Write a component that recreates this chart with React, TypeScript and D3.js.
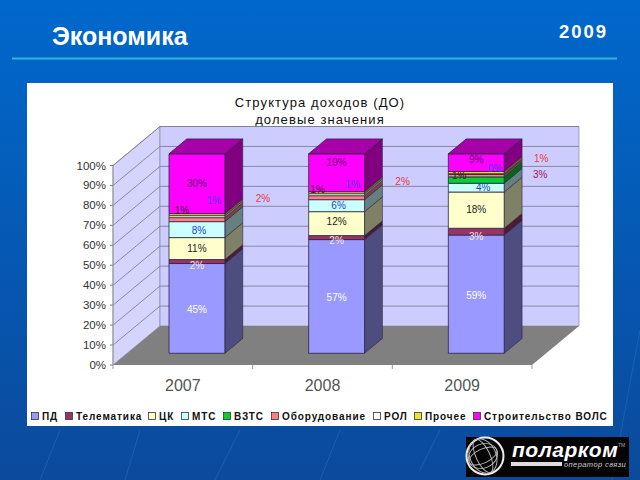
import React, { useEffect, useRef } from "react";
import * as d3 from "d3";

const years = ["2007", "2008", "2009"];
const seriesNames = ["ПД", "Телематика", "ЦК", "МТС", "ВЗТС", "Оборудование", "РОЛ", "Прочее", "Строительство ВОЛС"];

const pd = [45, 57, 59.4];
const telematika = [2, 2, 3.4];
const ck = [11, 12, 18.2];
const mts = [8, 6, 4.4];
const vzts = [0, 0, 3.2];
const equipment = [2, 2, 1.2];
const rol = [1, 1, 0.4];
const other = [1, 1, 1.1];
const vols = [30, 19, 8.9];
const seriesValues = [pd, telematika, ck, mts, vzts, equipment, rol, other, vols];

const yTicks = [0, 0.1, 0.2, 0.3, 0.4, 0.5, 0.6, 0.7, 0.8, 0.9, 1];

const colors = ["#9999ff", "#993366", "#ffffcc", "#ccffff", "#00d030", "#ff8080", "#ffffff", "#e8e820", "#ff00ff"];
const labelColors = ["#ffffff", "#f4e8f0", "#222222", "#1a3fcc", "#a02050", "#e83838", "#5533ff", "#401030", "#600070"];
const legendX = [31, 65, 148, 181, 223, 271, 373, 414, 473];

// hand placed data labels, [dx, dy] from the segment centre, per series then year
const labelNudge = [
  [[0, 1], [0, 1], [0, 1]],
  [[0, 4], [0, 3], [0, 5]],
  [[0, 0], [0, -2], [0, -1]],
  [[2, 1], [2, 0], [7, 0]],
  [[0, 0], [0, 0], [64, -6]],
  [[66, -21], [66, -16], [65, -17]],
  [[17, -16], [16, -10], [19, -6]],
  [[-15, -4], [-19, -3], [-17, 3]],
  [[0, 0], [0, -10], [0, -3]],
];

const FONT = "'Liberation Sans', Arial, sans-serif";

export default function App() {
  const ref = useRef<SVGSVGElement>(null);

  useEffect(() => {
    const svg = d3.select(ref.current);
    svg.selectAll("*").remove();

    // slide background
    const defs = svg.append("defs");
    const grad = defs.append("linearGradient").attr("id", "bg").attr("x1", 0).attr("x2", 0).attr("y1", 0).attr("y2", 1);
    grad.append("stop").attr("offset", "0%").attr("stop-color", "#0068cc");
    grad.append("stop").attr("offset", "100%").attr("stop-color", "#0b4a9c");
    svg.append("rect").attr("width", 640).attr("height", 480).attr("fill", "url(#bg)");

    [[60, 430, 40, 480], [140, 430, 125, 480], [240, 430, 215, 480], [340, 430, 320, 480], [440, 430, 420, 470], [640, 330, 612, 480]].forEach(l => {
      svg.append("line").attr("x1", l[0]).attr("y1", l[1]).attr("x2", l[2]).attr("y2", l[3])
        .attr("stroke", "#3a78c0").attr("stroke-opacity", 0.4);
    });

    svg.append("text").attr("x", 52).attr("y", 45).attr("fill", "#fff").attr("font-family", FONT)
      .attr("font-weight", "bold").attr("font-size", 25).text("Экономика");
    svg.append("text").attr("x", 559).attr("y", 38).attr("fill", "#fff").attr("font-family", FONT)
      .attr("font-weight", "bold").attr("font-size", 18.5).attr("letter-spacing", 2).text("2009");
    svg.append("line").attr("x1", 12).attr("x2", 617).attr("y1", 58.5).attr("y2", 58.5)
      .attr("stroke", "#2fb4dc").attr("stroke-width", 2);

    // chart panel
    svg.append("rect").attr("x", 27).attr("y", 83).attr("width", 586).attr("height", 343).attr("fill", "#fff");

    const title = svg.append("text").attr("text-anchor", "middle").attr("font-family", FONT)
      .attr("font-size", 13).attr("letter-spacing", 1.1).attr("fill", "#111");
    title.append("tspan").attr("x", 320).attr("y", 107).text("Структура доходов (ДО)");
    title.append("tspan").attr("x", 320).attr("y", 124).text("долевые значения");

    const xScale = d3.scaleBand().domain(years).range([113, 532]).paddingInner(0.6).paddingOuter(0.3);
    const yScale = d3.scaleLinear().domain([0, 1]).range([365, 165.5]);
    const depth = { x: 47, y: -39 };

    // project a point: x on the floor, v on the value axis, z into the depth
    const pt = (x: number, v: number, z: number) => [x + depth.x * z, yScale(v) + depth.y * z];
    const poly = (pts: number[][]) => pts.map(p => p.join(",")).join(" ");

    const x0 = xScale.range()[0], x1 = xScale.range()[1];

    // walls and floor
    svg.append("polygon").attr("points", poly([pt(x0, 0, 0), pt(x0, 1, 0), pt(x0, 1, 1), pt(x0, 0, 1)]))
      .attr("fill", "#d4d4ff").attr("stroke", "#8a8a9a").attr("stroke-width", 0.7);
    svg.append("polygon").attr("points", poly([pt(x0, 0, 1), pt(x0, 1, 1), pt(x1, 1, 1), pt(x1, 0, 1)]))
      .attr("fill", "#ccccff").attr("stroke", "#8a8a9a").attr("stroke-width", 0.7);
    svg.append("polygon").attr("points", poly([pt(x0, 0, 0), pt(x1, 0, 0), pt(x1, 0, 1), pt(x0, 0, 1)]))
      .attr("fill", "#808080");

    yTicks.forEach(t => {
      const a = pt(x0, t, 0), b = pt(x0, t, 1), c = pt(x1, t, 1);
      if (t > 0) {
        svg.append("polyline").attr("points", poly([a, b, c])).attr("fill", "none")
          .attr("stroke", "#77778a").attr("stroke-width", 0.8);
      }
      svg.append("line").attr("x1", x0 - 3).attr("x2", x0).attr("y1", a[1]).attr("y2", a[1]).attr("stroke", "#777");
      svg.append("text").attr("x", x0 - 7).attr("y", a[1] + 4).attr("text-anchor", "end")
        .attr("font-family", FONT).attr("font-size", 11.5).attr("fill", "#333")
        .text(d3.format(".0%")(t));
    });
    svg.append("line").attr("x1", x0).attr("x2", x0).attr("y1", yScale(0)).attr("y2", yScale(1)).attr("stroke", "#999");

    const bandStep = xScale.step();
    [0, 1, 2, 3].forEach(i => {
      const x = x0 + (bandStep * i);
      svg.append("line").attr("x1", x).attr("x2", x).attr("y1", 365).attr("y2", 369).attr("stroke", "#999");
    });

    svg.selectAll(".year").data(years).join("text").attr("class", "year")
      .attr("x", d => xScale(d)! + xScale.bandwidth() / 2)
      .attr("y", 391).attr("text-anchor", "middle").attr("font-family", FONT)
      .attr("font-size", 16).attr("fill", "#555").text(d => d);

    // stacked bars, normalised to 100%
    const table = years.map((y, i) => {
      const row: any = { year: y };
      seriesNames.forEach((s, j) => { row[s] = seriesValues[j][i]; });
      return row;
    });
    const stacked = d3.stack().keys(seriesNames).offset(d3.stackOffsetExpand)(table);

    const zFront = 0.3, zBack = 0.68;
    const shade = (c: string, k: number) => {
      const r = d3.rgb(c);
      return d3.rgb(r.r * k, r.g * k, r.b * k).formatHex();
    };
    const edge = "#2a2440";

    years.forEach((year, yi) => {
      const xl = xScale(year)!, xr = xl + xScale.bandwidth();
      const g = svg.append("g");
      stacked.forEach((layer, si) => {
        const lo = layer[yi][0], hi = layer[yi][1];
        if (hi - lo <= 0) return;
        g.append("polygon").attr("points", poly([pt(xr, lo, zFront), pt(xr, hi, zFront), pt(xr, hi, zBack), pt(xr, lo, zBack)]))
          .attr("fill", shade(colors[si], 0.5)).attr("stroke", edge).attr("stroke-width", 0.6);
        g.append("polygon").attr("points", poly([pt(xl, lo, zFront), pt(xr, lo, zFront), pt(xr, hi, zFront), pt(xl, hi, zFront)]))
          .attr("fill", colors[si]).attr("stroke", edge).attr("stroke-width", 0.8);
      });
      const top = stacked[stacked.length - 1][yi][1];
      g.append("polygon").attr("points", poly([pt(xl, top, zFront), pt(xr, top, zFront), pt(xr, top, zBack), pt(xl, top, zBack)]))
        .attr("fill", shade(colors[colors.length - 1], 0.66)).attr("stroke", edge).attr("stroke-width", 0.8);
    });

    // data labels
    stacked.forEach((layer, si) => {
      years.forEach((year, yi) => {
        const value = seriesValues[si][yi];
        if (value === 0) return;
        const mid = (layer[yi][0] + layer[yi][1]) / 2;
        const c = pt(xScale(year)! + xScale.bandwidth() / 2, mid, zFront);
        const n = labelNudge[si][yi];
        svg.append("text").attr("x", c[0] + n[0]).attr("y", c[1] + n[1] + 3.5)
          .attr("text-anchor", "middle").attr("font-family", FONT).attr("font-size", 10)
          .attr("fill", labelColors[si]).text(Math.round(value) + "%");
      });
    });

    // legend
    seriesNames.forEach((name, i) => {
      svg.append("rect").attr("x", legendX[i] + 0.5).attr("y", 412.5).attr("width", 7).attr("height", 7)
        .attr("fill", colors[i]).attr("stroke", "#333").attr("stroke-width", 0.8);
      svg.append("text").attr("x", legendX[i] + 11).attr("y", 420).attr("font-family", FONT)
        .attr("font-weight", "bold").attr("font-size", 10).attr("letter-spacing", 0.9)
        .attr("fill", "#111").text(name);
    });

    // logo
    const logo = svg.append("g");
    logo.append("rect").attr("x", 466).attr("y", 437).attr("width", 163).attr("height", 40).attr("fill", "#050505");
    logo.append("circle").attr("cx", 485).attr("cy", 456).attr("r", 18.5).attr("fill", "none").attr("stroke", "#eee").attr("stroke-width", 2);
    [[15, 7, -25], [15, 12, -25], [7, 18, -25], [13, 18, -25]].forEach(e => {
      logo.append("ellipse").attr("cx", 483).attr("cy", 456).attr("rx", e[0]).attr("ry", e[1])
        .attr("transform", `rotate(${e[2]} 483 456)`).attr("fill", "none").attr("stroke", "#bbb").attr("stroke-width", 0.9);
    });
    logo.append("text").attr("x", 512).attr("y", 457).attr("fill", "#fff").attr("font-family", FONT)
      .attr("font-weight", "bold").attr("font-style", "italic").attr("font-size", 21).attr("letter-spacing", 0.5).text("поларком");
    logo.append("rect").attr("x", 511).attr("y", 462).attr("width", 51).attr("height", 4).attr("fill", "#ddd");
    logo.append("text").attr("x", 564).attr("y", 466.5).attr("fill", "#ccc").attr("font-family", FONT)
      .attr("font-style", "italic").attr("font-size", 7.5).attr("letter-spacing", 0.4).text("оператор связи");
    logo.append("text").attr("x", 618).attr("y", 447).attr("fill", "#aaa").attr("font-family", FONT)
      .attr("font-size", 5).text("TM");
  }, []);

  return <svg ref={ref} width={640} height={480} style={{ position: "absolute", left: 0, top: 0, display: "block" }} />;
}
